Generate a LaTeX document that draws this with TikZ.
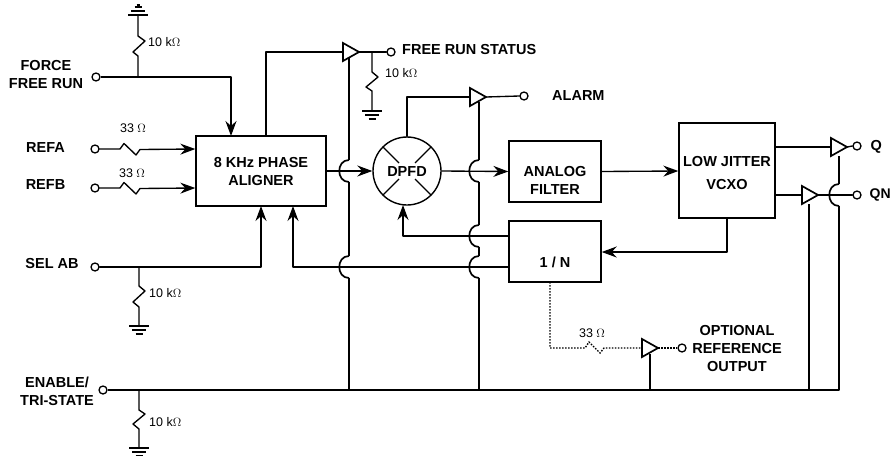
\documentclass[tikz,border=0pt]{standalone}
\usepackage{fontspec}
\setmainfont{Liberation Sans}
\usetikzlibrary{arrows.meta}
\tikzset{
  x=1pt,y=-1pt,
  wire/.style={line width=1.35pt,line cap=round,line join=round},
  bus/.style={line width=1.7pt,line join=round},
  dotw/.style={line width=1.4pt,dash pattern=on 1.5pt off 1.5pt},
  tip/.style={-{Stealth[length=15pt,width=11pt,inset=5pt]}},
  flow/.style={wire,tip},
  boxed/.style={draw,line width=1.4pt,inner sep=0pt},
  pin/.style={draw,circle,line width=1.3pt,minimum size=8pt,inner sep=0pt,fill=white},
  lab/.style={inner sep=0pt,align=center,font=\fontsize{14.5}{18}\selectfont\bfseries},
  val/.style={inner sep=0pt,font=\fontsize{12.5}{14}\selectfont},
  buf/.style={draw,line width=1.7pt,fill=white,line join=miter},
}
% buffer: tip x, y
\newcommand{\bufr}[3]{%
  \coordinate (#1in) at (#2-16,#3);
  \coordinate (#1out) at (#2,#3);
  \draw[buf] (#2-16,#3-9) -- (#2,#3) -- (#2-16,#3+9) -- cycle;}
% vertical jump centred on the crossing y
\newcommand{\jmp}[2]{(#1,#2-11) .. controls (#1-13,#2-11) and (#1-13,#2+11) .. (#1,#2+11)}
% ground symbols
\newcommand{\gnd}[3]{%
  \coordinate (#1) at (#2,#3);
  \draw[line width=1.3pt] (#2-10,#3) -- (#2+10,#3) (#2-7,#3+4) -- (#2+7,#3+4) (#2-3.5,#3+8) -- (#2+3.5,#3+8);}
\newcommand{\gndup}[3]{%
  \coordinate (#1) at (#2,#3);
  \draw[line width=1.3pt] (#2-10,#3) -- (#2+10,#3) (#2-7,#3-4) -- (#2+7,#3-4) (#2-3.5,#3-8) -- (#2+3.5,#3-8) (#2-1.5,#3-10) -- (#2+1.5,#3-10);}
\begin{document}
\begin{tikzpicture}
\useasboundingbox (0,0) rectangle (891,455);
\fill[white] (0,0) rectangle (891,455);

% blocks
\node[boxed,minimum width=130pt,minimum height=70pt] (align) at (261,171) {};
\node[boxed,minimum width=92pt,minimum height=61pt] (filter) at (555,171.5) {};
\node[boxed,minimum width=92pt,minimum height=61pt] (div) at (555,251.5) {};
\node[boxed,minimum width=96pt,minimum height=95pt] (vcxo) at (727,170.5) {};
\node[draw,circle,line width=1.4pt,minimum size=68pt,inner sep=0pt] (pfd) at (407,171) {};
\draw[line width=1.3pt] (383,147) -- (399,163) (431,147) -- (415,163) (383,195) -- (399,179) (431,195) -- (415,179);
\node[lab] (talign) at (261,172) {8 KHz PHASE\\ALIGNER};
\node[lab] (tfilter) at (555,180.5) {ANALOG\\FILTER};
\node[lab] (tdiv) at (555,262) {1 / N};
\node[lab,font=\fontsize{14.5}{23}\selectfont\bfseries] (tvcxo) at (727,173.5) {LOW JITTER\\VCXO};
\node[lab] (tpfd) at (407,172) {DPFD};

% pins
\node[pin] (force) at (96,77) {};
\node[pin] (refa) at (95,149) {};
\node[pin] (refb) at (95,188) {};
\node[pin] (sel) at (95,267) {};
\node[pin] (en) at (103,390) {};
\node[pin] (frs) at (391,52) {};
\node[pin] (alm) at (524,96) {};
\node[pin] (q) at (857,146) {};
\node[pin] (qn) at (857,195) {};
\node[pin] (opt) at (682,348) {};

% pin labels
\node[lab] (tforce) at (46,75) {FORCE\\FREE RUN};
\node[lab] (trefa) at (45.5,148) {REFA};
\node[lab] (trefb) at (45.5,185) {REFB};
\node[lab] (tsel) at (52,264) {SEL AB};
\node[lab] (ten) at (57,391) {ENABLE/\\TRI-STATE};
\node[lab,anchor=west] (tfrs) at (402,50) {FREE RUN STATUS};
\node[lab,anchor=west] (talm) at (552,96) {ALARM};
\node[lab,anchor=west] (tq) at (870.5,147) {Q};
\node[lab,anchor=west,font=\fontsize{14}{18}\selectfont\bfseries] (tqn) at (869.5,195) {QN};
\node[lab] (topt) at (737,349) {OPTIONAL\\REFERENCE\\OUTPUT};

% values
\node[val,anchor=west] (v1) at (148,42.5) {10 k$\Omega$};
\node[val,anchor=west] (v2) at (385,73.5) {10 k$\Omega$};
\node[val,anchor=west] (v3) at (149,293.5) {10 k$\Omega$};
\node[val,anchor=west] (v4) at (149,422) {10 k$\Omega$};
\node[val] (v5) at (133,128) {33 $\Omega$};
\node[val] (v6) at (132,173) {33 $\Omega$};
\node[val] (v7) at (592,333.5) {33 $\Omega$};

% grounds
\gndup{g1}{138}{15}
\gnd{g2}{372}{111}
\gnd{g3}{139}{326}
\gnd{g4}{139}{448}

% buses behind buffers
\coordinate (busend) at (839,390);
\draw[bus] (en.east) -- (busend) -- (839,206);
\draw[bus] (839,184) -- (839,156);
\draw[bus] \jmp{839}{195};
\draw[bus] (809,390) -- (809,204);
\draw[bus] (650,390) -- (650,354);
\draw[bus] (349,390) -- (349,278);
\draw[bus] \jmp{349}{267};
\draw[bus] (349,256) -- (349,182);
\draw[bus] \jmp{349}{171};
\draw[bus] (349,160) -- (349,58);
\draw[bus] (479,390) -- (479,278);
\draw[bus] \jmp{479}{267};
\draw[bus] (479,256) -- (479,247);
\draw[bus] \jmp{479}{236};
\draw[bus] (479,225) -- (479,182);
\draw[bus] \jmp{479}{171};
\draw[bus] (479,160) -- (479,102);

% buffers
\bufr{b1}{359}{52}
\bufr{b2}{486}{97}
\bufr{b3}{847}{147}
\bufr{b4}{818}{195}
\bufr{b5}{658}{348}

% inputs
\draw[bus] (force.east) -- (138,77);
\draw[bus,tip] (138,77) -- (231,77) -- (231,136);
\draw[wire] (g1) -- (138,36) -- (145,41) -- (133,52) -- (138,56) -- (138,77);
\draw[flow] (refa.east) -- (120,149) -- (124,143.5) -- (136,155) -- (140,149.5) -- (align.west |- 0,149);
\draw[flow] (refb.east) -- (120,188) -- (124,182.5) -- (136,194) -- (140,188.5) -- (align.west |- 0,188);
\draw[flow] (sel.east) -- (261,267) -- (261,206);
\draw[wire] (139,267) -- (139,286) -- (145,291) -- (133,302) -- (139,307) -- (g3);
\draw[wire] (139,390) -- (139,410) -- (145,414) -- (133,424) -- (139,429) -- (g4);

% aligner output and status
\draw[wire] (266,136) -- (266,52) -- (b1in);
\draw[wire] (b1out) -- (frs.west);
\draw[wire] (372,52) -- (372,72) -- (378,77) -- (366,87) -- (372,91) -- (g2);
\draw[flow] (align.east |- 0,171) -- (pfd.west);
\draw[wire] (pfd.north) -- (407,97) -- (b2in);
\draw[wire] (b2out) -- (alm.west);
\draw[flow] (pfd.east) -- (filter.west);
\draw[flow] (filter.east) -- (vcxo.west |- 0,171);
\draw[flow] (727,218) -- (727,252) -- (div.east |- 0,252);
\draw[flow] (div.west |- 0,236) -- (403,236) -- (403,205);
\draw[flow] (div.west |- 0,267) -- (293,267) -- (293,206);
\draw[wire] (vcxo.east |- 0,147) -- (b3in);
\draw[wire] (b3out) -- (q.west);
\draw[wire] (vcxo.east |- 0,195) -- (b4in);
\draw[wire] (b4out) -- (qn.west);

% optional reference output
\draw[dotw] (550,282) -- (550,348) -- (585,348) -- (589,342) -- (600,353) -- (604,348) -- (b5in);
\draw[dotw] (b5out) -- (opt.west);
\end{tikzpicture}
\end{document}
